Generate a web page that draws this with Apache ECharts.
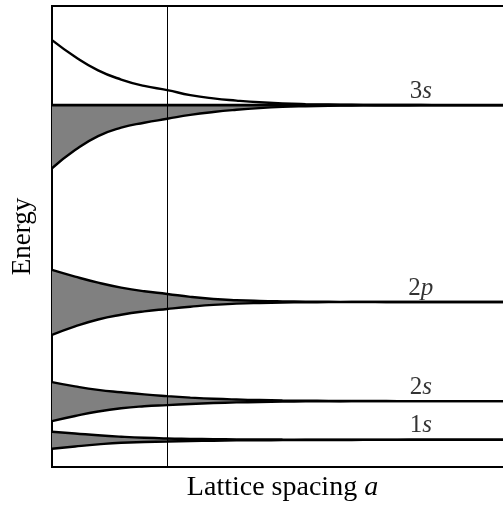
<!DOCTYPE html>
<html>
<head>
<meta charset="utf-8">
<script src="https://cdn.jsdelivr.net/npm/echarts@6/dist/echarts.min.js"></script>
<style>
  html, body { margin: 0; padding: 0; background: #fff; }
  #chart { width: 503px; height: 509px; }
</style>
</head>
<body>
<div id="chart"></div>
<script>
// Lattice spacing sample points (arbitrary units)
const spacing = [0, 0.5, 1, 1.5, 2, 2.5, 3, 3.5, 4, 4.5, 5, 5.5, 6, 6.5, 7, 7.5, 8, 8.5, 9, 9.5, 10];

// Atomic level energies (arbitrary units)
const levelNames = ['1s', '2s', '2p', '3s'];
const levelEnergy = [0.59, 1.43, 3.58, 7.85];

// Spread of each band above / below its atomic level at every spacing
const up1s = [0.174, 0.137, 0.098, 0.067, 0.043, 0.028, 0.020, 0.013, 0.010, 0.008, 0.005, 0.004, 0.003, 0.002, 0.001, 0, 0, 0, 0, 0, 0];
const dn1s = [0.195, 0.145, 0.100, 0.065, 0.048, 0.037, 0.026, 0.020, 0.013, 0.010, 0.008, 0.005, 0.004, 0.003, 0.002, 0.001, 0, 0, 0, 0, 0];
const up2s = [0.412, 0.319, 0.243, 0.191, 0.145, 0.108, 0.076, 0.050, 0.033, 0.022, 0.013, 0.008, 0.004, 0.002, 0.001, 0, 0, 0, 0, 0, 0];
const dn2s = [0.434, 0.323, 0.226, 0.156, 0.113, 0.087, 0.063, 0.043, 0.029, 0.020, 0.012, 0.007, 0.004, 0.002, 0.001, 0, 0, 0, 0, 0, 0];
const up2p = [0.694, 0.549, 0.419, 0.312, 0.232, 0.174, 0.111, 0.065, 0.038, 0.022, 0.013, 0.008, 0.004, 0.002, 0.001, 0, 0, 0, 0, 0, 0];
const dn2p = [0.716, 0.531, 0.380, 0.278, 0.204, 0.152, 0.104, 0.063, 0.037, 0.022, 0.013, 0.008, 0.004, 0.002, 0.001, 0, 0, 0, 0, 0, 0];
const up3s = [1.410, 1.050, 0.755, 0.555, 0.417, 0.325, 0.217, 0.145, 0.098, 0.061, 0.037, 0.022, 0.013, 0.008, 0.004, 0.002, 0.001, 0, 0, 0, 0];
const dn3s = [1.370, 0.976, 0.672, 0.490, 0.382, 0.297, 0.213, 0.150, 0.102, 0.065, 0.039, 0.024, 0.014, 0.008, 0.004, 0.002, 0.001, 0, 0, 0, 0];

// Spacing marked by the vertical reference line
const markedSpacing = 2.5;
// Spacing at which level names are placed
const labelSpacing = 8;

const ups = [up1s, up2s, up2p, up3s];
const dns = [dn1s, dn2s, dn2p, dn3s];

const FILL = '#808080';
const INK = '#000000';
const FONT = '"Liberation Serif", "DejaVu Serif", serif';
const SMOOTH = 0.5;

const categories = spacing.map(String);
const series = [];

levelNames.forEach((name, b) => {
  const lvl = levelEnergy[b];
  const upper = ups[b].map(v => lvl + v);
  const lower = dns[b].map(v => lvl - v);
  // the 3s band is shaded only below its level; the others between both edges
  const fillTop = (name === '3s') ? spacing.map(() => lvl) : upper;
  const thickness = fillTop.map((v, i) => Math.max(0, v - lower[i]));

  series.push({
    type: 'line', stack: 'band' + b, data: lower,
    smooth: SMOOTH, symbol: 'none',
    lineStyle: { opacity: 0 }, silent: true, z: 1
  });
  series.push({
    type: 'line', stack: 'band' + b, data: thickness,
    smooth: SMOOTH, symbol: 'none',
    lineStyle: { opacity: 0 }, areaStyle: { color: FILL, opacity: 1 },
    silent: true, z: 1
  });
  [upper, lower].forEach(edge => {
    series.push({
      type: 'line', data: edge,
      smooth: SMOOTH, symbol: 'none',
      lineStyle: { color: INK, width: 2.4 }, silent: true, z: 3
    });
  });
  if (name === '3s') {
    series.push({
      type: 'line', data: spacing.map(() => lvl),
      symbol: 'none', lineStyle: { color: INK, width: 2.6 }, silent: true, z: 3
    });
  }
});

// level names
series.push({
  type: 'scatter',
  symbolSize: 0,
  silent: true,
  z: 5,
  data: levelNames.map((n, b) => ({ value: [String(labelSpacing), levelEnergy[b]], name: n })),
  label: {
    show: true,
    position: 'inside',
    offset: [0, -14],
    formatter: p => '{n|' + p.name.charAt(0) + '}{i|' + p.name.slice(1) + '}',
    rich: {
      n: { fontFamily: FONT, fontSize: 25, color: INK },
      i: { fontFamily: FONT, fontSize: 25, color: INK, fontStyle: 'italic' }
    }
  }
});

// vertical reference line
series.push({
  type: 'line', data: [], silent: true,
  markLine: {
    silent: true, symbol: 'none', animation: false,
    label: { show: false },
    lineStyle: { color: INK, width: 1, type: 'solid' },
    data: [{ xAxis: String(markedSpacing) }]
  }
});

const chart = echarts.init(document.getElementById('chart'), null, { renderer: 'canvas' });
chart.setOption({
  animation: false,
  backgroundColor: '#fff',
  grid: {
    left: 52, right: -10, top: 6, bottom: 42,
    outerBoundsMode: 'none', containLabel: false,
    show: true, borderColor: INK, borderWidth: 2
  },
  xAxis: {
    type: 'category', data: categories, boundaryGap: false,
    axisLine: { show: true, lineStyle: { color: INK, width: 2 } },
    axisTick: { show: false }, axisLabel: { show: false }, splitLine: { show: false },
    name: 'Lattice spacing {i|a}',
    nameLocation: 'middle', nameGap: 7,
    nameTextStyle: {
      fontFamily: FONT, fontSize: 28, color: INK, verticalAlign: 'top',
      rich: { i: { fontFamily: FONT, fontSize: 28, color: INK, fontStyle: 'italic' } }
    }
  },
  yAxis: {
    type: 'value', min: 0, max: 10,
    axisLine: { show: true, lineStyle: { color: INK, width: 2 } },
    axisTick: { show: false }, axisLabel: { show: false }, splitLine: { show: false },
    name: 'Energy',
    nameLocation: 'middle', nameGap: 16, nameRotate: 90,
    nameTextStyle: { fontFamily: FONT, fontSize: 27, color: INK, verticalAlign: 'bottom' }
  },
  series: series
});
</script>
</body>
</html>
